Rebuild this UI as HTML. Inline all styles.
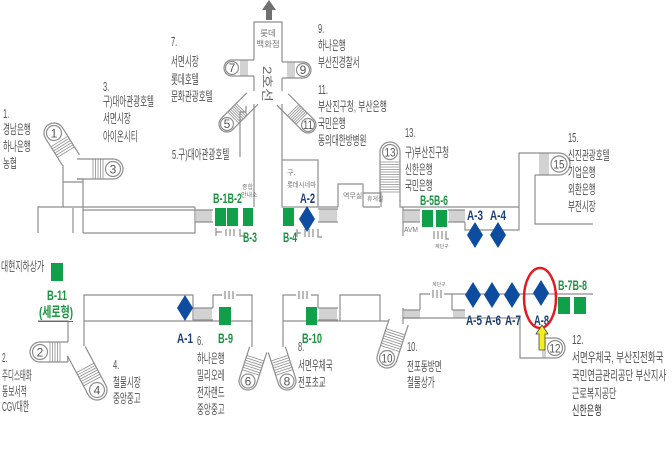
<!DOCTYPE html>
<html><head><meta charset="utf-8">
<style>
html,body{margin:0;padding:0;background:#fff;}
svg{display:block;}
.k{font-family:"Liberation Sans","Noto Sans CJK KR",sans-serif;font-size:13px;fill:#525252;}
.g{font-family:"Liberation Sans","Noto Sans CJK KR",sans-serif;font-size:14px;font-weight:bold;fill:#1b9440;}
.b{font-family:"Liberation Sans",sans-serif;font-size:14px;font-weight:bold;fill:#1d3f7a;}
.n{font-family:"Liberation Sans",sans-serif;font-size:12px;fill:#555;text-anchor:middle;}
.s{font-family:"Liberation Sans","Noto Sans CJK KR",sans-serif;fill:#777;}
.w{fill:none;stroke:#8e8e8e;stroke-width:1.2;}
.h{stroke:#8e8e8e;stroke-width:0.8;fill:none;}
.gr{fill:#10a04a;}
.dm{fill:#0d4c9e;}
</style></head><body>
<svg width="672" height="464" viewBox="0 0 672 464" xmlns="http://www.w3.org/2000/svg">

<!-- top arrow -->
<polygon points="269,0 276,10 272,10 272,20 266,20 266,10 262,10" fill="#707070"/>

<!-- walls -->
<g class="w">
<path d="M38,233V207H195M83,210H195M195,207V233H83M83,233V179H77M73,233V208M63,165V207M63,182H83"/>
<path d="M195,210H213M195,222H213"/>
<path d="M216,228V236M216,232H222M226,229V236M230,229V236M234,229V236M240,229V236H246"/>
<path d="M254,60V22H282V62M254,76V91M254,104V207M282,78V91M282,104V160M240,157V112H246V106"/>
<rect x="282" y="160" width="36" height="47"/>
<path d="M297,229V237M297,233H301M305,229V237M309,229V237M313,229V237M318,229V237H322"/>
<path d="M318,207H338M318,209H338M318,222H338M338,207V184H363V207M363,193H381V207M363,207H380"/>
<path d="M400,200V207H519M403,207V236M403,210H420M403,222H420M448,210H465M448,222H465"/>
<path d="M535,153H519V230H465V222M535,175V224H593"/>
<path d="M434,231V239M438,231V239M442,231V239M446,231V239H449"/>
<path d="M38,321H68V342M68,362L67.5,356M84,346V295H193V321M84,321H252"/>
<path d="M193,308H213M193,320H213M213,308V295H222M236,295H252V347"/>
<path d="M225,291V299M229,291V299M233,291V299"/>
<path d="M283,347V295H296M311,295H318V308M299,291V299M303,291V299M307,291V299"/>
<path d="M318,308H338M318,320H338M340,321V295H380V321M283,321H389"/>
<path d="M403,308V324M403,310H420M403,318H420M420,310V294H430M444,294H452V310M433,290V298M437,290V298M441,290V298"/>
<path d="M452,310H465M452,318H465M452,294H593M403,318H520V358H543"/>
</g>
<path class="h" d="M197,210V222M199,210V222M201,210V222M203,210V222M205,210V222M207,210V222M209,210V222M211,210V222
M320,209V222M322,209V222M324,209V222M326,209V222M328,209V222M330,209V222M332,209V222M334,209V222M336,209V222
M405,210V222M407,210V222M409,210V222M411,210V222M413,210V222M415,210V222M417,210V222M419,210V222
M450,210V222M452,210V222M454,210V222M456,210V222M458,210V222M460,210V222M462,210V222M464,210V222
M195,308V320M197,308V320M199,308V320M201,308V320M203,308V320M205,308V320M207,308V320M209,308V320M211,308V320
M320,308V320M322,308V320M324,308V320M326,308V320M328,308V320M330,308V320M332,308V320M334,308V320M336,308V320
M405,310V318M407,310V318M409,310V318M411,310V318M413,310V318M415,310V318M417,310V318M419,310V318
M454,310V318M456,310V318M458,310V318M460,310V318M462,310V318M464,310V318"/>

<!-- capsule arms -->
<g class="w">
<g transform="translate(54,133) rotate(58)"><path d="M32,-10H0A10,10 0 0 0 0,10H32"/><circle r="7.5"/><path class="h" d="M10,-10V10M12.5,-10V10M15,-10V10M17.5,-10V10M20,-10V10M22.5,-10V10"/></g>
<g transform="translate(113,169) rotate(180)"><path d="M36,-10H0A10,10 0 0 0 0,10H36"/><circle r="7.5"/><path class="h" d="M10,-10V10M12.5,-10V10M15,-10V10M17.5,-10V10M20,-10V10"/></g>
<g transform="translate(232,68)"><path d="M22,-8H0A8,8 0 0 0 0,8H22"/><circle r="6.5"/><path class="h" d="M9,-8V8M11,-8V8M13,-8V8M15,-8V8"/></g>
<g transform="translate(303,70) rotate(180)"><path d="M21,-8H0A8,8 0 0 0 0,8H21"/><circle r="6.5"/><path class="h" d="M9,-8V8M11,-8V8M13,-8V8M15,-8V8"/></g>
<g transform="translate(227,124) rotate(-45)"><path d="M36,-8H0A8,8 0 0 0 0,8H36"/><circle r="6.5"/><path class="h" d="M9,-8V8M11,-8V8M13,-8V8M15,-8V8M17,-8V8M19,-8V8M21,-8V8"/></g>
<g transform="translate(308,125) rotate(-135)"><path d="M36,-8H0A8,8 0 0 0 0,8H36"/><circle r="6.5"/><path class="h" d="M9,-8V8M11,-8V8M13,-8V8M15,-8V8M17,-8V8M19,-8V8M21,-8V8"/></g>
<g transform="translate(390,152) rotate(90)"><path d="M50,-10H0A10,10 0 0 0 0,10H50"/><circle r="7.5"/><path class="h" d="M10,-10V10M12.5,-10V10M15,-10V10M17.5,-10V10M20,-10V10M22.5,-10V10M25,-10V10M27.5,-10V10M30,-10V10M32.5,-10V10M35,-10V10M37.5,-10V10M40,-10V10"/></g>
<g transform="translate(559,164) rotate(180)"><path d="M24,-11H0A11,11 0 0 0 0,11H24"/><circle r="8"/><path class="h" d="M11,-11V11M13,-11V11M15,-11V11M17,-11V11M19,-11V11"/></g>
<g transform="translate(40,352)"><path d="M28,-10H0A10,10 0 0 0 0,10H28"/><circle r="7.5"/><path class="h" d="M10,-10V10M12.5,-10V10M15,-10V10M17.5,-10V10M20,-10V10"/></g>
<g transform="translate(97,390) rotate(-118)"><path d="M44,-10H0A10,10 0 0 0 0,10H44"/><circle r="7.5"/><path class="h" d="M10,-10V10M12.5,-10V10M15,-10V10M17.5,-10V10M20,-10V10M22.5,-10V10M25,-10V10"/></g>
<g transform="translate(248,381) rotate(-72)"><path d="M33,-9H0A9,9 0 0 0 0,9H33"/><circle r="7"/><path class="h" d="M9,-9V9M11.5,-9V9M14,-9V9M16.5,-9V9M19,-9V9M21.5,-9V9M24,-9V9"/></g>
<g transform="translate(287,381) rotate(-108)"><path d="M33,-9H0A9,9 0 0 0 0,9H33"/><circle r="7"/><path class="h" d="M9,-9V9M11.5,-9V9M14,-9V9M16.5,-9V9M19,-9V9M21.5,-9V9M24,-9V9"/></g>
<g transform="translate(387,358) rotate(-72)"><path d="M38,-10H0A10,10 0 0 0 0,10H38"/><circle r="7.5"/><path class="h" d="M10,-10V10M12.5,-10V10M15,-10V10M17.5,-10V10M20,-10V10M22.5,-10V10M25,-10V10M27.5,-10V10"/></g>
<g transform="translate(555,348) rotate(180)"><path d="M12,-10H0A10,10 0 0 0 0,10H12"/><circle r="7.5"/><path class="h" d="M10,-10V10M12,-10V10"/></g>
</g>

<!-- circle numbers -->
<text class="n" x="54" y="137.5">1</text>
<text class="n" x="113" y="173.5">3</text>
<text class="n" x="232" y="72">7</text>
<text class="n" x="303" y="74">9</text>
<text class="n" x="227" y="128">5</text>
<text class="n" x="308" y="129" textLength="10" lengthAdjust="spacingAndGlyphs">11</text>
<text class="n" x="390" y="156.5" textLength="11" lengthAdjust="spacingAndGlyphs">13</text>
<text class="n" x="559" y="168.5" textLength="11" lengthAdjust="spacingAndGlyphs">15</text>
<text class="n" x="40" y="356.5">2</text>
<text class="n" x="97" y="394.5">4</text>
<text class="n" x="248" y="385.5">6</text>
<text class="n" x="287" y="385.5">8</text>
<text class="n" x="387" y="362.5" textLength="11" lengthAdjust="spacingAndGlyphs">10</text>
<text class="n" x="555" y="352.5" textLength="11" lengthAdjust="spacingAndGlyphs">12</text>

<!-- tower labels -->
<text class="s" font-size="8.5" x="268" y="36" text-anchor="middle">롯데</text>
<text class="s" font-size="8.5" x="268" y="47" text-anchor="middle">백화점</text>
<text transform="translate(263,66) rotate(90)" font-family="Liberation Sans, Noto Sans CJK KR, sans-serif" font-size="12" fill="#6a6a6a" textLength="36" lengthAdjust="spacingAndGlyphs">2호선</text>

<!-- small labels -->
<text class="s" font-size="6" x="242" y="189">종합</text>
<text class="s" font-size="6" x="241" y="197">안내소</text>
<text class="s" font-size="7" x="287" y="175">구.</text>
<text class="s" font-size="7" x="287" y="187" textLength="29" lengthAdjust="spacingAndGlyphs">롯데시네마</text>
<text class="s" font-size="7" x="343" y="198">역무실</text>
<text class="s" font-size="6" x="367" y="201">휴게실</text>
<text class="s" font-size="7" x="404" y="232" textLength="14" lengthAdjust="spacingAndGlyphs">AVM</text>
<text class="s" font-size="5" x="435" y="248">계단구</text>
<text class="s" font-size="5" x="432" y="286">계단구</text>

<!-- green squares -->
<rect class="gr" x="215" y="208" width="11" height="18"/>
<rect class="gr" x="227" y="208" width="11" height="18"/>
<rect class="gr" x="243" y="208" width="10" height="18"/>
<rect class="gr" x="283" y="208" width="11" height="18"/>
<rect class="gr" x="422" y="210" width="11" height="17"/>
<rect class="gr" x="436" y="210" width="11" height="17"/>
<rect class="gr" x="51" y="263" width="12" height="18"/>
<rect class="gr" x="219" y="307" width="12" height="18"/>
<rect class="gr" x="306" y="307" width="11" height="18"/>
<rect class="gr" x="558" y="297" width="12" height="17"/>
<rect class="gr" x="574" y="297" width="12" height="17"/>

<!-- diamonds -->
<polygon class="dm" points="185,295 193,308 185,321 177,308"/>
<polygon class="dm" points="307,206 315,219 307,232 299,219"/>
<polygon class="dm" points="475,222 483,235 475,248 467,235"/>
<polygon class="dm" points="498,222 506,235 498,248 490,235"/>
<polygon class="dm" points="473,282 481,295 473,308 465,295"/>
<polygon class="dm" points="492,282 500,295 492,308 484,295"/>
<polygon class="dm" points="512,282 520,295 512,308 504,295"/>
<polygon class="dm" points="541,280 549,293 541,306 533,293"/>

<!-- green labels -->
<text class="g" x="213" y="203" textLength="29" lengthAdjust="spacingAndGlyphs">B-1B-2</text>
<text class="g" x="243" y="242" textLength="14" lengthAdjust="spacingAndGlyphs">B-3</text>
<text class="g" x="283" y="242" textLength="14" lengthAdjust="spacingAndGlyphs">B-4</text>
<text class="g" x="420" y="205" textLength="28" lengthAdjust="spacingAndGlyphs">B-5B-6</text>
<text class="g" x="558" y="290" textLength="29" lengthAdjust="spacingAndGlyphs">B-7B-8</text>
<text class="g" x="218" y="343" textLength="15" lengthAdjust="spacingAndGlyphs">B-9</text>
<text class="g" x="302" y="343" textLength="20" lengthAdjust="spacingAndGlyphs">B-10</text>
<text class="g" x="47" y="300" textLength="20" lengthAdjust="spacingAndGlyphs">B-11</text>
<text class="g" x="39" y="317" textLength="34" lengthAdjust="spacingAndGlyphs">(세로형)</text>
<path d="M38,321.5H73" stroke="#d04040" stroke-width="1"/>

<!-- blue labels -->
<text class="b" x="300" y="203" textLength="15" lengthAdjust="spacingAndGlyphs">A-2</text>
<text class="b" x="467" y="220" textLength="16" lengthAdjust="spacingAndGlyphs">A-3</text>
<text class="b" x="490" y="220" textLength="16" lengthAdjust="spacingAndGlyphs">A-4</text>
<text class="b" x="177" y="343" textLength="16" lengthAdjust="spacingAndGlyphs">A-1</text>
<text class="b" x="466" y="325" textLength="16" lengthAdjust="spacingAndGlyphs">A-5</text>
<text class="b" x="485" y="325" textLength="16" lengthAdjust="spacingAndGlyphs">A-6</text>
<text class="b" x="505" y="325" textLength="16" lengthAdjust="spacingAndGlyphs">A-7</text>
<text class="b" x="534" y="325" textLength="15" lengthAdjust="spacingAndGlyphs">A-8</text>

<!-- red ellipse & yellow arrow -->
<ellipse cx="540" cy="298" rx="16" ry="30" fill="none" stroke="#e31b23" stroke-width="2.5"/>
<polygon points="542,325 548,334 545,334 545,350 539,350 539,334 536,334" fill="#f6ee1a" stroke="#444" stroke-width="0.8"/>

<!-- descriptive text -->
<g class="k">
<text transform="translate(3,118) scale(0.58,1)">1.</text>
<text transform="translate(3,134) scale(0.58,1)">경남은행</text>
<text transform="translate(3,151) scale(0.58,1)">하나은행</text>
<text transform="translate(3,168) scale(0.58,1)">농협</text>

<text transform="translate(103,91) scale(0.58,1)">3.</text>
<text transform="translate(103,106) scale(0.58,1)">구)대아관광호텔</text>
<text transform="translate(103,123) scale(0.58,1)">서면시장</text>
<text transform="translate(103,141) scale(0.58,1)">아이온시티</text>

<text transform="translate(171,46) scale(0.58,1)">7.</text>
<text transform="translate(171,66) scale(0.58,1)">서면시장</text>
<text transform="translate(171,84) scale(0.58,1)">롯데호텔</text>
<text transform="translate(171,101) scale(0.58,1)">문화관광호텔</text>

<text transform="translate(172,159) scale(0.58,1)">5.구)대아관광호텔</text>

<text transform="translate(318,33) scale(0.58,1)">9.</text>
<text transform="translate(318,50) scale(0.58,1)">하나은행</text>
<text transform="translate(318,67) scale(0.58,1)">부산진경찰서</text>

<text transform="translate(318,94) scale(0.58,1)">11.</text>
<text transform="translate(318,111) scale(0.6,1)">부산진구청, 부산은행</text>
<text transform="translate(318,128) scale(0.58,1)">국민은행</text>
<text transform="translate(318,145) scale(0.58,1)">동의대한방병원</text>

<text transform="translate(405,137) scale(0.58,1)">13.</text>
<text transform="translate(405,157) scale(0.58,1)">구)부산진구청</text>
<text transform="translate(405,174) scale(0.58,1)">신한은행</text>
<text transform="translate(405,190) scale(0.58,1)">국민은행</text>

<text transform="translate(568,142) scale(0.58,1)">15.</text>
<text transform="translate(568,160) scale(0.58,1)">신진관광호텔</text>
<text transform="translate(568,177) scale(0.58,1)">기업은행</text>
<text transform="translate(568,194) scale(0.58,1)">외환은행</text>
<text transform="translate(568,211) scale(0.58,1)">부전시장</text>

<text transform="translate(1,271) scale(0.6,1)">대현지하상가</text>

<text transform="translate(2,362) scale(0.5,1)">2.</text>
<text transform="translate(2,380) scale(0.5,1)">주디스태화</text>
<text transform="translate(2,396) scale(0.52,1)">동보서적</text>
<text transform="translate(2,411) scale(0.52,1)">CGV대한</text>

<text transform="translate(113,369) scale(0.58,1)">4.</text>
<text transform="translate(113,387) scale(0.58,1)">철물시장</text>
<text transform="translate(113,403) scale(0.58,1)">중앙중고</text>

<text transform="translate(197,345) scale(0.58,1)">6.</text>
<text transform="translate(197,363) scale(0.58,1)">하나은행</text>
<text transform="translate(197,380) scale(0.58,1)">밀리오레</text>
<text transform="translate(197,397) scale(0.58,1)">전자랜드</text>
<text transform="translate(197,414) scale(0.58,1)">중앙중고</text>

<text transform="translate(298,351) scale(0.58,1)">8.</text>
<text transform="translate(298,370) scale(0.58,1)">서면우체국</text>
<text transform="translate(298,387) scale(0.58,1)">전포초교</text>

<text transform="translate(407,351) scale(0.58,1)">10.</text>
<text transform="translate(407,371) scale(0.58,1)">전포동방면</text>
<text transform="translate(407,387) scale(0.58,1)">철물상가</text>

<text transform="translate(572,344) scale(0.64,1)">12.</text>
<text transform="translate(572,362) scale(0.66,1)">서면우체국, 부산진전화국</text>
<text transform="translate(572,380) scale(0.64,1)">국민연금관리공단 부산지사</text>
<text transform="translate(572,398) scale(0.62,1)">근로복지공단</text>
<text transform="translate(572,415) scale(0.62,1)" fill="#333">신한은행</text>
</g>

</svg>
</body></html>
